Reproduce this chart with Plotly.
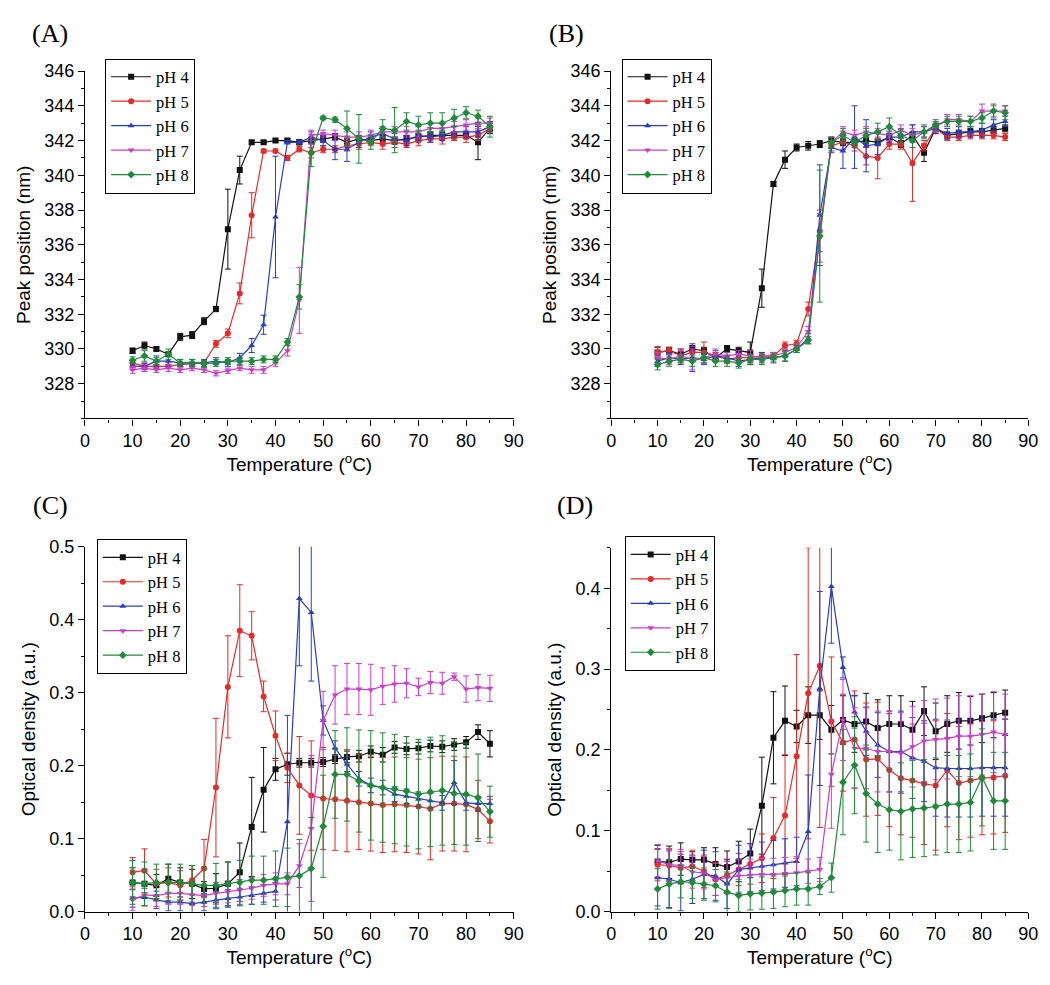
import plotly.graph_objects as go

# ---------------- data ----------------
temperature = [10, 12.5, 15, 17.5, 20, 22.5, 25, 27.5, 30, 32.5, 35, 37.5, 40, 42.5, 45,
               47.5, 50, 52.5, 55, 57.5, 60, 62.5, 65, 67.5, 70, 72.5, 75, 77.5, 80, 82.5, 85]
ph_labels = ["pH 4", "pH 5", "pH 6", "pH 7", "pH 8"]

# Panel A - peak position (nm)
A_pH4 = [329.9, 330.2, 330.0, 329.7, 330.7, 330.8, 331.6, 332.3, 336.9, 340.3, 341.9, 341.9, 342.0, 342.0, 341.9,
         342.0, 342.1, 342.2, 341.9, 342.1, 342.0, 342.1, 342.0, 342.1, 342.2, 342.3, 342.3, 342.3, 342.3, 341.9, 342.7]
A_pH4_err = [0.15, 0.2, 0.1, 0.1, 0.2, 0.2, 0.2, 0.15, 2.3, 0.8, 0.1, 0.1, 0.1, 0.1, 0.15,
             0.2, 0.2, 0.2, 0.2, 0.2, 0.2, 0.2, 0.2, 0.2, 0.2, 0.2, 0.2, 0.2, 0.2, 1.0, 0.3]
A_pH5 = [329.2, 329.0, 329.0, 329.0, 329.1, 329.15, 329.2, 330.3, 330.9, 333.2, 337.7, 341.4, 341.4, 341.0, 341.5,
         341.3, 341.5, 341.5, 341.7, 341.8, 341.9, 341.8, 341.9, 341.8, 342.0, 342.1, 342.1, 342.2, 342.2, 342.3, 342.7]
A_pH5_err = [0.15, 0.15, 0.1, 0.1, 0.1, 0.1, 0.1, 0.2, 0.25, 0.6, 1.3, 0.1, 0.1, 0.15, 0.15,
             0.3, 0.2, 0.2, 0.3, 0.3, 0.2, 0.3, 0.3, 0.2, 0.3, 0.2, 0.3, 0.2, 0.3, 0.3, 0.2]
A_pH6 = [329.0, 329.0, 329.3, 329.3, 329.2, 329.2, 329.2, 329.3, 329.2, 329.5, 330.2, 331.4, 337.6, 341.9, 341.9,
         342.2, 342.0, 341.5, 341.5, 341.9, 342.2, 342.4, 342.1, 342.0, 342.3, 342.2, 342.3, 342.5, 342.5, 342.5, 342.8]
A_pH6_err = [0.2, 0.2, 0.3, 0.3, 0.2, 0.2, 0.2, 0.2, 0.2, 0.25, 0.4, 0.55, 3.5, 0.1, 0.1,
             0.3, 0.3, 0.6, 0.7, 0.3, 0.3, 0.3, 0.3, 0.3, 0.3, 0.3, 0.3, 0.3, 0.3, 0.3, 0.3]
A_pH7 = [328.8, 328.9, 328.8, 328.9, 328.8, 328.9, 328.8, 328.6, 328.75, 328.9, 328.8, 328.8, 329.2, 329.9, 332.8,
         342.3, 342.4, 342.3, 342.2, 342.2, 342.3, 342.5, 342.5, 342.5, 342.5, 342.7, 342.7, 342.8, 342.9, 343.0, 343.0]
A_pH7_err = [0.2, 0.2, 0.15, 0.2, 0.15, 0.15, 0.15, 0.15, 0.15, 0.15, 0.2, 0.2, 0.2, 0.3, 1.9,
             0.3, 0.2, 0.3, 0.3, 0.3, 0.3, 0.3, 0.3, 0.3, 0.3, 0.3, 0.3, 0.3, 0.3, 0.3, 0.3]
A_pH8 = [329.35, 329.6, 329.3, 329.7, 329.2, 329.2, 329.15, 329.2, 329.3, 329.3, 329.3, 329.4, 329.4, 330.4, 333.0,
         341.3, 343.3, 343.2, 342.7, 342.1, 341.9, 342.7, 342.6, 343.1, 342.9, 343.0, 343.0, 343.3, 343.6, 343.4, 342.8]
A_pH8_err = [0.2, 0.3, 0.2, 0.3, 0.2, 0.2, 0.2, 0.2, 0.2, 0.2, 0.2, 0.2, 0.2, 0.2, 0.7,
             0.8, 0.1, 0.15, 1.0, 1.4, 0.4, 0.5, 1.3, 0.5, 0.5, 0.6, 0.6, 0.5, 0.35, 0.35, 0.6]

# Panel B - peak position (nm)
B_pH4 = [329.8, 329.9, 329.7, 330.0, 329.9, 329.5, 330.0, 329.9, 329.8, 333.5, 339.5, 340.9, 341.6, 341.7, 341.8,
         342.0, 341.9, 341.9, 342.0, 341.9, 342.2, 341.8, 342.3, 341.3, 342.7, 342.3, 342.4, 342.5, 342.5, 342.6, 342.7]
B_pH4_err = [0.3, 0.2, 0.3, 0.2, 0.2, 0.2, 0.2, 0.2, 0.6, 1.1, 0.15, 0.5, 0.2, 0.25, 0.2,
             0.2, 0.2, 0.2, 0.2, 0.2, 0.2, 0.2, 0.2, 0.5, 0.2, 0.2, 0.2, 0.2, 0.2, 0.2, 0.2]
B_pH5 = [329.8, 329.9, 329.6, 329.8, 329.8, 329.6, 329.4, 329.5, 329.5, 329.6, 329.6, 330.2, 330.3, 332.3, 336.8,
         341.7, 341.9, 341.7, 341.1, 341.0, 341.8, 341.8, 340.7, 341.7, 342.7, 342.2, 342.2, 342.3, 342.3, 342.3, 342.2]
B_pH5_err = [0.35, 0.2, 0.3, 0.35, 0.6, 0.2, 0.2, 0.2, 0.2, 0.2, 0.2, 0.2, 0.2, 0.4, 1.2,
             0.3, 0.4, 0.3, 0.5, 1.2, 0.3, 0.3, 2.2, 0.3, 0.3, 0.2, 0.2, 0.2, 0.2, 0.2, 0.2]
B_pH6 = [329.3, 329.5, 329.4, 329.5, 329.4, 329.6, 329.5, 329.3, 329.4, 329.5, 329.5, 329.6, 330.0, 330.6, 337.7,
         341.6, 341.4, 342.2, 341.7, 341.8, 342.2, 342.2, 342.5, 342.5, 342.7, 342.4, 342.5, 342.5, 342.6, 342.9, 343.1]
B_pH6_err = [0.3, 0.3, 0.3, 0.8, 0.3, 0.3, 0.3, 0.3, 0.3, 0.3, 0.3, 0.3, 0.2, 0.3, 2.9,
             0.3, 1.0, 1.8, 1.5, 0.6, 0.3, 0.3, 0.4, 0.3, 0.3, 0.3, 0.3, 0.3, 0.4, 0.3, 0.3]
B_pH7 = [329.5, 329.4, 329.6, 329.4, 329.5, 329.7, 329.6, 329.7, 329.6, 329.5, 329.6, 329.8, 330.1, 331.0, 336.4,
         341.9, 342.5, 342.3, 342.5, 342.4, 342.3, 342.6, 342.3, 342.5, 342.8, 343.2, 343.2, 343.1, 343.7, 343.7, 343.7]
B_pH7_err = [0.3, 0.3, 0.4, 0.6, 0.3, 0.3, 0.2, 0.2, 0.3, 0.2, 0.2, 0.2, 0.2, 0.3, 1.4,
             0.3, 0.3, 0.3, 0.3, 0.3, 0.3, 0.3, 0.4, 0.3, 0.3, 0.3, 0.3, 0.3, 0.4, 0.3, 0.3]
B_pH8 = [329.1, 329.3, 329.4, 329.3, 329.5, 329.3, 329.3, 329.2, 329.4, 329.4, 329.5, 329.6, 330.0, 330.5, 336.5,
         341.9, 342.3, 341.9, 342.3, 342.5, 342.8, 342.3, 342.0, 342.5, 342.9, 343.1, 343.1, 343.1, 343.3, 343.7, 343.6]
B_pH8_err = [0.3, 0.3, 0.2, 0.3, 0.3, 0.3, 0.3, 0.3, 0.3, 0.3, 0.2, 0.3, 0.2, 0.2, 3.8,
             0.3, 0.4, 0.3, 0.4, 0.5, 0.5, 0.4, 0.4, 0.4, 0.3, 0.3, 0.3, 0.3, 0.3, 0.4, 0.4]

# Panel C - optical density (a.u.)
C_pH4 = [0.040, 0.038, 0.036, 0.045, 0.040, 0.038, 0.031, 0.032, 0.038, 0.054, 0.116, 0.167, 0.195, 0.202, 0.204,
         0.204, 0.205, 0.209, 0.212, 0.213, 0.219, 0.215, 0.225, 0.223, 0.224, 0.227, 0.226, 0.229, 0.232, 0.246, 0.230]
C_pH4_err = [0.02, 0.02, 0.015, 0.02, 0.02, 0.02, 0.01, 0.02, 0.03, 0.04, 0.068, 0.058, 0.015, 0.015, 0.006,
             0.006, 0.006, 0.006, 0.008, 0.008, 0.008, 0.01, 0.008, 0.008, 0.008, 0.008, 0.008, 0.008, 0.008, 0.01, 0.018]
C_pH5 = [0.054, 0.056, 0.038, 0.040, 0.036, 0.043, 0.059, 0.170, 0.308, 0.385, 0.378, 0.295, 0.241, 0.197, 0.173,
         0.159, 0.155, 0.154, 0.152, 0.150, 0.148, 0.146, 0.147, 0.146, 0.144, 0.141, 0.148, 0.148, 0.147, 0.140, 0.124]
C_pH5_err = [0.02, 0.03, 0.02, 0.02, 0.02, 0.02, 0.04, 0.095, 0.07, 0.063, 0.033, 0.021, 0.034, 0.02, 0.067,
             0.075, 0.07, 0.07, 0.07, 0.065, 0.065, 0.065, 0.065, 0.065, 0.065, 0.07, 0.065, 0.065, 0.065, 0.04, 0.03]
C_pH6 = [0.018, 0.020, 0.016, 0.013, 0.013, 0.011, 0.013, 0.016, 0.018, 0.020, 0.022, 0.025, 0.028, 0.123, 0.429,
         0.410, 0.262, 0.224, 0.202, 0.182, 0.173, 0.170, 0.161, 0.158, 0.154, 0.152, 0.149, 0.177, 0.149, 0.148, 0.148]
C_pH6_err = [0.012, 0.012, 0.012, 0.012, 0.012, 0.012, 0.012, 0.012, 0.012, 0.012, 0.012, 0.012, 0.012, 0.146, 0.092,
             0.094, 0.02, 0.01, 0.01, 0.01, 0.01, 0.01, 0.01, 0.01, 0.01, 0.01, 0.01, 0.03, 0.01, 0.01, 0.01]
C_pH7 = [0.016, 0.023, 0.022, 0.025, 0.025, 0.023, 0.022, 0.025, 0.027, 0.029, 0.032, 0.036, 0.038, 0.038, 0.063,
         0.114, 0.262, 0.297, 0.305, 0.305, 0.304, 0.309, 0.312, 0.313, 0.308, 0.314, 0.313, 0.322, 0.305, 0.307, 0.306]
C_pH7_err = [0.015, 0.015, 0.015, 0.015, 0.015, 0.015, 0.015, 0.015, 0.015, 0.015, 0.015, 0.015, 0.015, 0.015, 0.03,
             0.10, 0.04, 0.04, 0.035, 0.035, 0.035, 0.025, 0.025, 0.02, 0.012, 0.015, 0.015, 0.005, 0.018, 0.018, 0.018]
C_pH8 = [0.040, 0.038, 0.040, 0.040, 0.040, 0.038, 0.036, 0.036, 0.038, 0.040, 0.043, 0.043, 0.045, 0.047, 0.049,
         0.059, 0.117, 0.188, 0.188, 0.179, 0.173, 0.170, 0.168, 0.165, 0.161, 0.164, 0.166, 0.162, 0.161, 0.156, 0.137]
C_pH8_err = [0.03, 0.03, 0.025, 0.025, 0.025, 0.025, 0.025, 0.03, 0.03, 0.03, 0.033, 0.033, 0.038, 0.04, 0.05,
             0.07, 0.07, 0.06, 0.064, 0.07, 0.075, 0.075, 0.075, 0.075, 0.075, 0.075, 0.075, 0.07, 0.07, 0.06, 0.035]

# Panel D - optical density (a.u.)
D_pH4 = [0.062, 0.061, 0.065, 0.064, 0.064, 0.059, 0.055, 0.062, 0.072, 0.131, 0.215, 0.236, 0.229, 0.243, 0.243,
         0.225, 0.237, 0.232, 0.235, 0.227, 0.232, 0.232, 0.225, 0.248, 0.223, 0.232, 0.236, 0.236, 0.239, 0.243, 0.246]
D_pH4_err = [0.02, 0.02, 0.02, 0.01, 0.015, 0.02, 0.02, 0.025, 0.03, 0.06, 0.057, 0.043, 0.02, 0.035, 0.03,
             0.03, 0.03, 0.035, 0.035, 0.035, 0.035, 0.035, 0.035, 0.03, 0.035, 0.035, 0.035, 0.03, 0.03, 0.028, 0.028]
D_pH5 = [0.058, 0.057, 0.054, 0.056, 0.050, 0.040, 0.045, 0.052, 0.059, 0.066, 0.091, 0.119, 0.192, 0.270, 0.304,
         0.235, 0.209, 0.213, 0.188, 0.189, 0.175, 0.165, 0.162, 0.158, 0.156, 0.175, 0.159, 0.162, 0.165, 0.166, 0.168]
D_pH5_err = [0.02, 0.02, 0.02, 0.02, 0.02, 0.02, 0.02, 0.02, 0.025, 0.03, 0.05, 0.075, 0.126, 0.18, 0.2,
             0.08, 0.06, 0.06, 0.07, 0.07, 0.07, 0.07, 0.07, 0.075, 0.08, 0.07, 0.07, 0.07, 0.07, 0.07, 0.07]
D_pH6 = [0.042, 0.040, 0.036, 0.040, 0.046, 0.044, 0.034, 0.052, 0.054, 0.056, 0.058, 0.060, 0.062, 0.099, 0.276,
         0.402, 0.302, 0.247, 0.223, 0.206, 0.198, 0.198, 0.190, 0.186, 0.178, 0.177, 0.177, 0.177, 0.178, 0.178, 0.178]
D_pH6_err = [0.035, 0.035, 0.035, 0.03, 0.03, 0.03, 0.03, 0.03, 0.03, 0.03, 0.03, 0.03, 0.03, 0.07, 0.12,
             0.07, 0.013, 0.02, 0.03, 0.04, 0.05, 0.05, 0.05, 0.05, 0.06, 0.06, 0.06, 0.06, 0.06, 0.06, 0.06]
D_pH7 = [0.063, 0.058, 0.057, 0.049, 0.048, 0.040, 0.042, 0.044, 0.045, 0.046, 0.046, 0.047, 0.048, 0.050, 0.052,
         0.170, 0.237, 0.202, 0.202, 0.198, 0.198, 0.196, 0.204, 0.211, 0.213, 0.214, 0.217, 0.217, 0.219, 0.222, 0.219]
D_pH7_err = [0.02, 0.02, 0.02, 0.02, 0.02, 0.02, 0.02, 0.02, 0.02, 0.02, 0.02, 0.02, 0.02, 0.015, 0.015,
             0.067, 0.05, 0.05, 0.05, 0.05, 0.05, 0.05, 0.05, 0.05, 0.05, 0.05, 0.05, 0.05, 0.05, 0.05, 0.05]
D_pH8 = [0.028, 0.034, 0.037, 0.036, 0.034, 0.032, 0.024, 0.020, 0.022, 0.023, 0.024, 0.026, 0.028, 0.028, 0.031,
         0.042, 0.160, 0.181, 0.146, 0.133, 0.126, 0.124, 0.127, 0.128, 0.130, 0.133, 0.133, 0.135, 0.166, 0.137, 0.137]
D_pH8_err = [0.025, 0.03, 0.02, 0.02, 0.02, 0.02, 0.025, 0.02, 0.02, 0.02, 0.02, 0.02, 0.02, 0.02, 0.01,
             0.018, 0.065, 0.06, 0.06, 0.06, 0.05, 0.06, 0.06, 0.06, 0.06, 0.06, 0.06, 0.06, 0.06, 0.06, 0.06]

x_ticks = [0, 10, 20, 30, 40, 50, 60, 70, 80, 90]
peak_ticks = [328, 330, 332, 334, 336, 338, 340, 342, 344, 346]
od_ticks_C = [0.0, 0.1, 0.2, 0.3, 0.4, 0.5]
od_ticks_D = [0.0, 0.1, 0.2, 0.3, 0.4]

# ---------------- styling ----------------
colors = ["#111111", "#e42a2a", "#2a3cc0", "#c83ec8", "#1e8a3a"]
symbols = ["square", "circle", "triangle-up", "triangle-down", "diamond"]
sans = "Liberation Sans, Arial, sans-serif"
serif = "Liberation Serif, Times New Roman, serif"

panels = [
    ("x", "y", "legend", [A_pH4, A_pH5, A_pH6, A_pH7, A_pH8],
     [A_pH4_err, A_pH5_err, A_pH6_err, A_pH7_err, A_pH8_err]),
    ("x2", "y2", "legend2", [B_pH4, B_pH5, B_pH6, B_pH7, B_pH8],
     [B_pH4_err, B_pH5_err, B_pH6_err, B_pH7_err, B_pH8_err]),
    ("x3", "y3", "legend3", [C_pH4, C_pH5, C_pH6, C_pH7, C_pH8],
     [C_pH4_err, C_pH5_err, C_pH6_err, C_pH7_err, C_pH8_err]),
    ("x4", "y4", "legend4", [D_pH4, D_pH5, D_pH6, D_pH7, D_pH8],
     [D_pH4_err, D_pH5_err, D_pH6_err, D_pH7_err, D_pH8_err]),
]

fig = go.Figure()
for xa, ya, lg, series, errs in panels:
    for i in range(5):
        fig.add_trace(go.Scatter(
            x=temperature, y=series[i], xaxis=xa, yaxis=ya, legend=lg,
            name=ph_labels[i], mode="lines+markers",
            line=dict(color=colors[i], width=1.2),
            marker=dict(symbol=symbols[i], size=6, color=colors[i]),
            error_y=dict(type="data", array=errs[i], visible=True,
                         color=colors[i], thickness=1, width=3),
        ))

TICK_FONT = dict(family=sans, size=18, color="black")
TITLE_FONT = dict(family=sans, size=19, color="black")

def xaxis_style(domain, anchor):
    return dict(domain=domain, anchor=anchor, range=[0, 90], tickvals=x_ticks,
                showline=True, linecolor="black", linewidth=1.2, mirror=False,
                ticks="outside", ticklen=6, tickwidth=1.2, tickcolor="black",
                minor=dict(ticks="outside", ticklen=3, dtick=5, tickcolor="black", tickwidth=1),
                showgrid=False, zeroline=False, tickfont=TICK_FONT,
                title=dict(text="Temperature (<sup>o</sup>C)", standoff=4, font=TITLE_FONT))

def yaxis_style(domain, anchor, rng, tickvals, title, fmt=None, minor_dtick=1):
    d = dict(domain=domain, anchor=anchor, range=rng, tickvals=tickvals,
             showline=True, linecolor="black", linewidth=1.2, mirror=False,
             ticks="outside", ticklen=6, tickwidth=1.2, tickcolor="black",
             minor=dict(ticks="outside", ticklen=3, dtick=minor_dtick, tickcolor="black", tickwidth=1),
             showgrid=False, zeroline=False, tickfont=TICK_FONT,
             title=dict(text=title, standoff=8, font=TITLE_FONT))
    if fmt:
        d["tickformat"] = fmt
    return d

top_dom = [0.585, 0.945]
bot_C = [0.074, 0.452]
bot_D = [0.074, 0.451]
left_x = [0.0695, 0.4838]
right_x = [0.578, 0.981]

legend_common = dict(bgcolor="white", bordercolor="black", borderwidth=1,
                     font=dict(family=serif, size=16.5, color="black"),
                     xanchor="left", yanchor="top", tracegroupgap=0, itemwidth=40)

fig.update_layout(
    width=1050, height=985, paper_bgcolor="white", plot_bgcolor="white",
    margin=dict(l=0, r=0, t=0, b=0), showlegend=True,
    xaxis=xaxis_style(left_x, "y"),
    yaxis=yaxis_style(top_dom, "x", [326, 346], peak_ticks, "Peak position (nm)"),
    xaxis2=xaxis_style(right_x, "y2"),
    yaxis2=yaxis_style(top_dom, "x2", [326, 346], peak_ticks, "Peak position (nm)"),
    xaxis3=xaxis_style(left_x, "y3"),
    yaxis3=yaxis_style(bot_C, "x3", [0, 0.5], od_ticks_C, "Optical density (a.u.)", ".1f", 0.05),
    xaxis4=xaxis_style(right_x, "y4"),
    yaxis4=yaxis_style(bot_D, "x4", [0, 0.45], od_ticks_D, "Optical density (a.u.)", ".1f", 0.05),
    legend=dict(x=0.089, y=0.958, **legend_common),
    legend2=dict(x=0.588, y=0.958, **legend_common),
    legend3=dict(x=0.081, y=0.460, **legend_common),
    legend4=dict(x=0.591, y=0.463, **legend_common),
)

panel_labels = [("(A)", 38, 16), ("(B)", 562, 16), ("(C)", 38, 498), ("(D)", 570, 498)]
for txt, px, py in panel_labels:
    fig.add_annotation(text=txt, x=px / 1050, y=1 - py / 985, xref="paper", yref="paper",
                       showarrow=False, xanchor="center", yanchor="middle",
                       font=dict(family=serif, size=26, color="black"))

fig.write_html("out.html")
